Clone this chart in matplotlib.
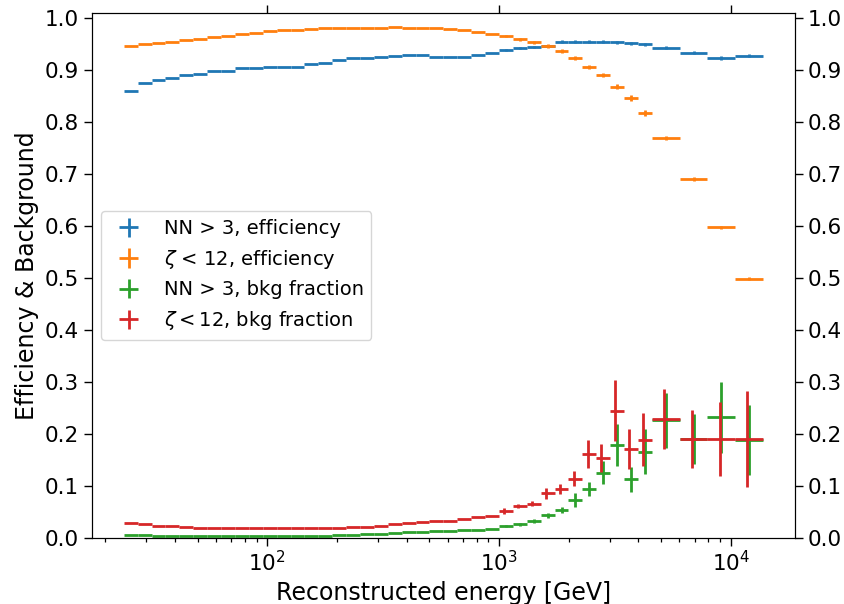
import numpy as np
import matplotlib
matplotlib.use("Agg")
import matplotlib.pyplot as plt

# Bin edges in log10(E/GeV): 38 narrow bins (0.06 dex) + 4 wide bins (0.12 dex)
log_edges = np.r_[np.linspace(1.38, 3.66, 39), np.linspace(3.78, 4.14, 4)]

nn_eff = [0.861, 0.875, 0.882, 0.886, 0.891, 0.894, 0.898, 0.898, 0.904, 0.904,
          0.906, 0.906, 0.907, 0.912, 0.915, 0.920, 0.923, 0.923, 0.925, 0.927,
          0.930, 0.930, 0.926, 0.926, 0.926, 0.930, 0.934, 0.939, 0.943, 0.945,
          0.947, 0.955, 0.955, 0.955, 0.955, 0.954, 0.952, 0.950,
          0.944, 0.934, 0.924, 0.928]
nn_eff_err = [0.0] * 27 + [0.002, 0.002, 0.002, 0.002, 0.003, 0.003, 0.003, 0.003,
                           0.003, 0.003, 0.003, 0.003, 0.003, 0.003, 0.003]

zeta_eff = [0.947, 0.951, 0.952, 0.955, 0.958, 0.961, 0.965, 0.967, 0.970, 0.972,
            0.975, 0.977, 0.978, 0.979, 0.981, 0.981, 0.982, 0.982, 0.982, 0.984,
            0.982, 0.981, 0.981, 0.980, 0.978, 0.974, 0.971, 0.967, 0.960, 0.954,
            0.947, 0.937, 0.924, 0.907, 0.891, 0.869, 0.847, 0.818,
            0.770, 0.691, 0.598, 0.499]
zeta_eff_err = [0.0] * 27 + [0.002, 0.003, 0.003, 0.003, 0.004, 0.004, 0.004, 0.004,
                             0.005, 0.005, 0.005, 0.003, 0.003, 0.003, 0.003]

nn_bkg = [0.006, 0.005, 0.004, 0.004, 0.004, 0.004, 0.004, 0.004, 0.004, 0.004,
          0.004, 0.004, 0.004, 0.004, 0.004, 0.005, 0.006, 0.007, 0.008, 0.009,
          0.011, 0.012, 0.013, 0.013, 0.015, 0.016, 0.018, 0.023, 0.026, 0.033,
          0.044, 0.054, 0.073, 0.094, 0.126, 0.179, 0.113, 0.166,
          0.227, 0.190, 0.232, 0.189]
nn_bkg_err = [0.0] * 27 + [0.002, 0.003, 0.004, 0.005, 0.005, 0.013, 0.014, 0.022,
                           0.040, 0.024, 0.043, 0.053, 0.048, 0.068, 0.067]

zeta_bkg = [0.029, 0.026, 0.024, 0.0225, 0.021, 0.020, 0.019, 0.019, 0.019, 0.019,
            0.019, 0.019, 0.019, 0.019, 0.019, 0.020, 0.021, 0.022, 0.024, 0.026,
            0.028, 0.031, 0.033, 0.033, 0.036, 0.041, 0.043, 0.052, 0.062, 0.066,
            0.086, 0.094, 0.114, 0.161, 0.154, 0.245, 0.171, 0.189,
            0.229, 0.190, 0.191, 0.190]
zeta_bkg_err = [0.0] * 27 + [0.005, 0.004, 0.005, 0.010, 0.010, 0.014, 0.027, 0.027,
                             0.059, 0.038, 0.051, 0.058, 0.056, 0.071, 0.092]

labels = ["NN > 3, efficiency", r"$\zeta$ < 12, efficiency",
          "NN > 3, bkg fraction", r"$\zeta < 12$, bkg fraction"]
colors = ["#1f77b4", "#ff7f0e", "#2ca02c", "#d62728"]
x_shift = [1.0, 1.0, 1.0, 0.982]   # small visual offset of the last series

edges = 10 ** log_edges
lo, hi = edges[:-1], edges[1:]
centers = np.sqrt(lo * hi)

fig = plt.figure(figsize=(8.44, 6.04), dpi=100)
ax = fig.add_axes([0.1087, 0.1093, 0.8333, 0.8687])
ax.set_xscale("log")

series = [(nn_eff, nn_eff_err), (zeta_eff, zeta_eff_err),
          (nn_bkg, nn_bkg_err), (zeta_bkg, zeta_bkg_err)]
for (vals, errs), lab, col, sh in zip(series, labels, colors, x_shift):
    xc = centers * sh
    ax.errorbar(xc, vals, xerr=[xc - lo, hi - xc], yerr=errs, fmt="none",
                ecolor=col, elinewidth=2.0, label=lab)

span = log_edges[-1] - log_edges[0]
xlim = (10 ** (log_edges[0] - 0.05 * span), 10 ** (log_edges[-1] + 0.05 * span))
ax.set_xlim(*xlim)

yticks = np.round(np.arange(0, 1.01, 0.1), 1)
ax.set_ylim(0, 1.01)
ax.set_yticks(yticks)
ax.tick_params(axis="both", which="major", labelsize=15.5, length=5.5, width=1.0)
ax.tick_params(axis="x", which="minor", length=3, width=0.9)
ax.tick_params(axis="x", which="major", top=True)
ax.set_xlabel("Reconstructed energy [GeV]", fontsize=17)
ax.set_ylabel("Efficiency & Background", fontsize=17)

ax2 = ax.twinx()
ax2.set_ylim(0, 1.01)
ax2.set_yticks(yticks)
ax2.tick_params(axis="y", labelsize=15.5, length=5.5, width=1.0)
ax.set_xlim(*xlim)

ax.legend(loc="center left", fontsize=14)

fig.savefig("out.png", dpi=100)
